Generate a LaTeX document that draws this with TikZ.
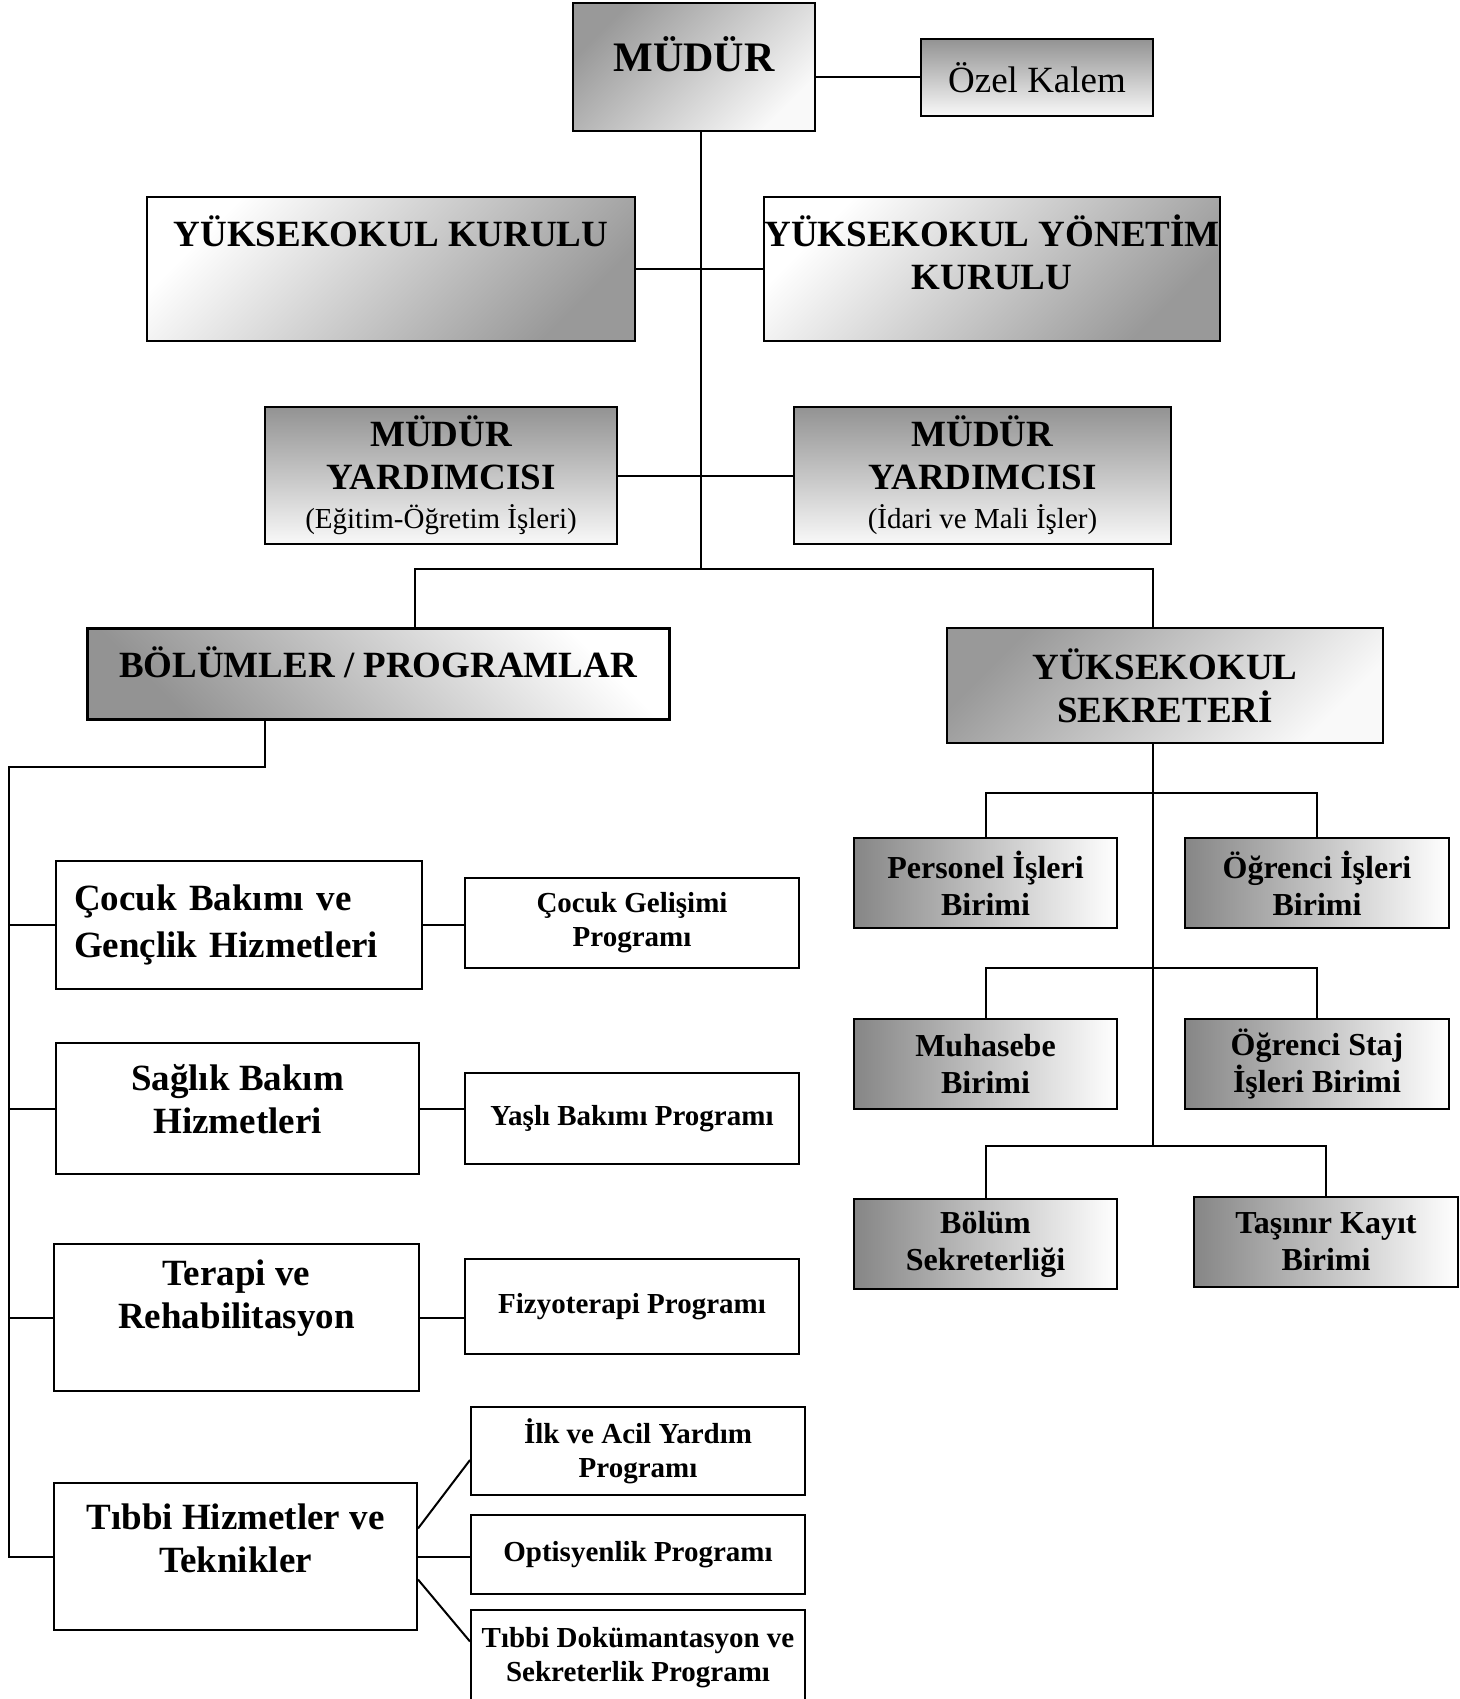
\documentclass[tikz,border=0pt]{standalone}
\usepackage{fontspec}
\setmainfont{Liberation Serif}

\begin{document}
\begin{tikzpicture}[x=1pt, y=-1pt,
    box/.style={draw, line width=2pt, inner sep=0pt, align=center},
    big/.style={font=\bfseries\fontsize{37}{43}\selectfont},
    unit/.style={font=\bfseries\fontsize{32}{37}\selectfont},
    prog/.style={font=\bfseries\fontsize{29}{34}\selectfont},
    tldark/.style={top color=gray!80, bottom color=gray!5, shading angle=45},
    brdark/.style={top color=white, bottom color=gray!80, shading angle=45},
    bldark/.style={top color=white, bottom color=gray!85, shading angle=-45},
    topdark/.style={top color=gray!85, bottom color=gray!5},
    leftdark/.style={left color=gray!95, right color=white},
    link/.style={line width=2pt}]
    \useasboundingbox (0,0) rectangle (1459,1699);

    % top of the chart
    \node(mudur)[box, tldark, minimum width=242, minimum height=128, text depth=26pt,
        font=\bfseries\fontsize{42}{48}\selectfont] at (694,67) {MÜDÜR};
    \node(ozel)[box, topdark, minimum width=232, minimum height=77,
        font=\fontsize{37}{43}\selectfont] at (1037,77.5) {Özel Kalem};
    \node(kurul)[box, brdark, big, minimum width=488, minimum height=144, text depth=76pt]
        at (391,269) {YÜKSEKOKUL KURULU};
    \node(yonetim)[box, brdark, big, minimum width=456, minimum height=144, text depth=34pt]
        at (992,269) {YÜKSEKOKUL YÖNETİM\\KURULU};
    \node(yrdL)[box, topdark, big, minimum width=352, minimum height=137]
        at (441,475.5) {MÜDÜR\\YARDIMCISI\\[-4pt]{\mdseries\fontsize{29}{35}\selectfont(Eğitim-Öğretim İşleri)}};
    \node(yrdR)[box, topdark, big, minimum width=377, minimum height=137]
        at (982.5,475.5) {MÜDÜR\\YARDIMCISI\\[-4pt]{\mdseries\fontsize{29}{35}\selectfont(İdari ve Mali İşler)}};
    \node(bolum)[box, bldark, big, line width=3pt, minimum width=582, minimum height=91, text depth=22pt]
        at (378,673.5) {BÖLÜMLER / PROGRAMLAR};
    \node(sekreter)[box, tldark, big, minimum width=436, minimum height=115]
        at (1165,685.5) {YÜKSEKOKUL\\SEKRETERİ};

    \draw[link] (mudur.east |- ozel.west) -- (ozel.west);
    \coordinate(trunk) at (701,569);
    \draw[link] (mudur.south -| trunk) -- (trunk);
    \draw[link] (kurul.east) -- (yonetim.west);
    \draw[link] (yrdL.east) -- (yrdR.west);
    \coordinate(barL) at (415,569);
    \coordinate(barR) at (1153,569);
    \draw[link] (barL |- bolum.north) -- (barL) -- (barR) -- (barR |- sekreter.north);

    % departments
    \node(cocuk)[box, big, align=left, text width=330pt, minimum width=366, minimum height=128,
        font=\bfseries\fontsize{37}{47}\selectfont] at (239,925) {Çocuk Bakımı ve\\Gençlik Hizmetleri};
    \node(saglik)[box, big, minimum width=363, minimum height=131, text depth=20pt]
        at (237.5,1108.5) {Sağlık Bakım\\Hizmetleri};
    \node(terapi)[box, big, minimum width=365, minimum height=147, text depth=46pt]
        at (236.5,1317.5) {Terapi ve\\Rehabilitasyon};
    \node(tibbi)[box, big, minimum width=363, minimum height=147, text depth=36pt]
        at (235.5,1556.5) {Tıbbi Hizmetler ve\\Teknikler};

    \node(cocukprog)[box, prog, minimum width=334, minimum height=90] at (632,923) {Çocuk Gelişimi\\Programı};
    \node(yasli)[box, prog, minimum width=334, minimum height=91] at (632,1118.5) {Yaşlı Bakımı Programı};
    \node(fizyo)[box, prog, minimum width=334, minimum height=95] at (632,1306.5) {Fizyoterapi Programı};
    \node(ilk)[box, prog, minimum width=334, minimum height=88] at (638,1451) {İlk ve Acil Yardım\\Programı};
    \node(opt)[box, prog, minimum width=334, minimum height=79] at (638,1554.5) {Optisyenlik Programı};
    \node(tibbidok)[box, prog, minimum width=334, minimum height=95] at (638,1657.5) {Tıbbi Dokümantasyon ve\\Sekreterlik Programı};

    \coordinate(bolumLeg) at (265,767);
    \coordinate(spine) at (9,767);
    \draw[link] (bolumLeg |- bolum.south) -- (bolumLeg) -- (spine) -- (spine |- tibbi.west) -- (tibbi.west);
    \draw[link] (spine |- cocuk.west) -- (cocuk.west);
    \draw[link] (spine |- saglik.west) -- (saglik.west);
    \draw[link] (spine |- terapi.west) -- (terapi.west);

    \draw[link] (cocuk.east) -- (cocuk.east -| cocukprog.west);
    \draw[link] (saglik.east) -- (saglik.east -| yasli.west);
    \draw[link] (terapi.east) -- (terapi.east -| fizyo.west);
    \draw[link] ([yshift=28pt]tibbi.east) -- ([yshift=-9pt]ilk.west);
    \draw[link] (tibbi.east) -- (tibbi.east -| opt.west);
    \draw[link] ([yshift=-23pt]tibbi.east) -- ([yshift=16pt]tibbidok.west);

    % secretary units
    \node(personel)[box, leftdark, unit, minimum width=263, minimum height=90] at (985.5,883) {Personel İşleri\\Birimi};
    \node(ogrenci)[box, leftdark, unit, minimum width=264, minimum height=90] at (1317,883) {Öğrenci İşleri\\Birimi};
    \node(muhasebe)[box, leftdark, unit, minimum width=263, minimum height=90] at (985.5,1064) {Muhasebe\\Birimi};
    \node(staj)[box, leftdark, unit, minimum width=264, minimum height=90] at (1317,1064) {Öğrenci Staj\\İşleri Birimi};
    \node(bolumsek)[box, leftdark, unit, minimum width=263, minimum height=90] at (985.5,1244) {Bölüm\\Sekreterliği};
    \node(tasinir)[box, leftdark, unit, minimum width=264, minimum height=90] at (1326,1242) {Taşınır Kayıt\\Birimi};

    \coordinate(row1) at (1153,793);
    \coordinate(row2) at (1153,968);
    \coordinate(row3) at (1153,1146);
    \draw[link] (sekreter.south -| row3) -- (row3);
    \draw[link] (personel.north) |- (row1) -| (ogrenci.north);
    \draw[link] (muhasebe.north) |- (row2) -| (staj.north);
    \draw[link] (bolumsek.north) |- (row3) -| (tasinir.north);
\end{tikzpicture}
\end{document}
